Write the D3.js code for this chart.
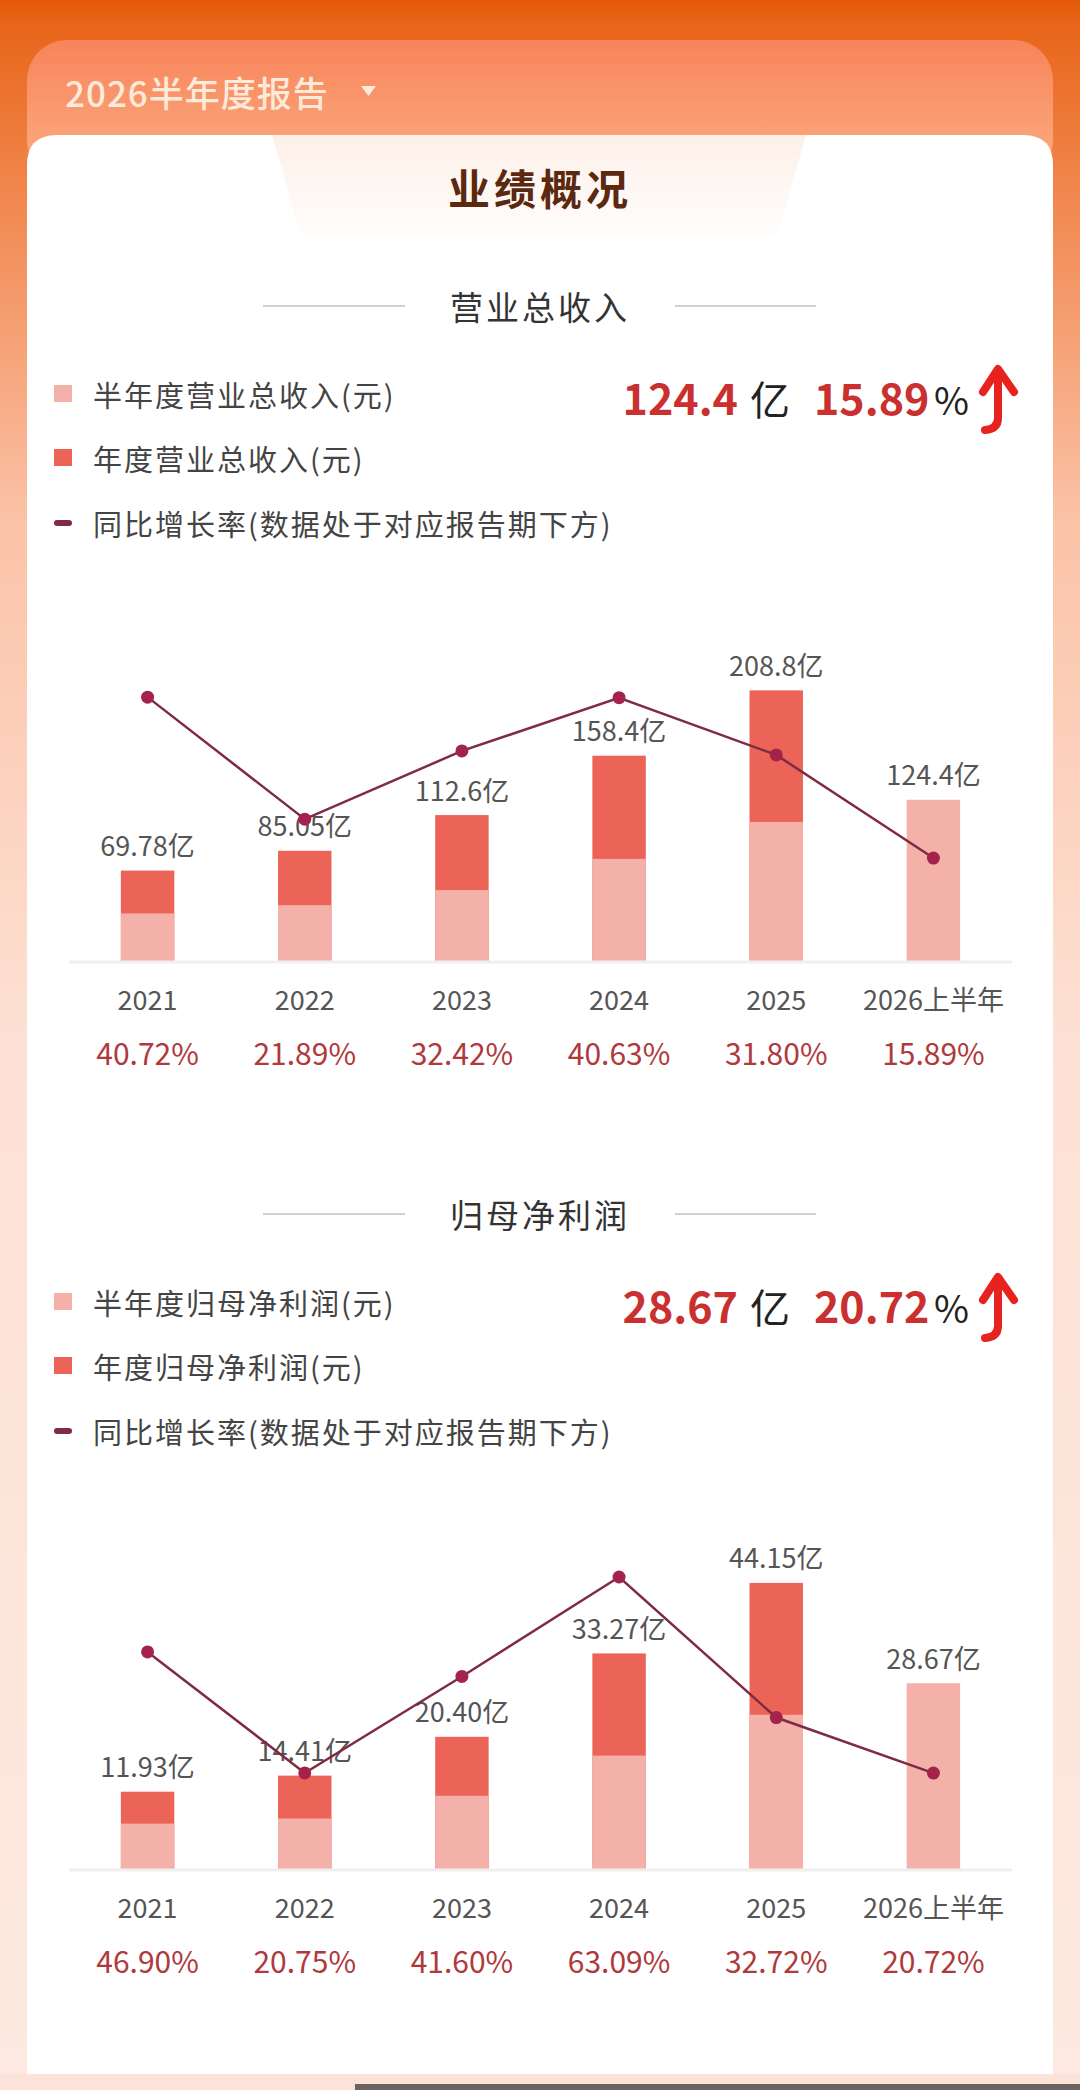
<!DOCTYPE html>
<html>
<head>
<meta charset="utf-8">
<script src="https://cdn.jsdelivr.net/npm/d3@7"></script>
<style>
  body { margin: 0; padding: 0; background: #fde9e0; }
  svg { display: block; }
  text { font-family: "Noto Sans CJK SC", "Noto Sans", sans-serif; }
</style>
</head>
<body>
<div id="chart"></div>
<script>
// categories
var years = ["2021", "2022", "2023", "2024", "2025", "2026上半年"];

// 营业总收入 (亿元)
var revHalf = [36.7, 43.1, 54.7, 78.8, 107.3, 124.4];
var revAnnual = [69.78, 85.05, 112.6, 158.4, 208.8, null];
var revGrowth = [40.72, 21.89, 32.42, 40.63, 31.80, 15.89];

// 归母净利润 (亿元)
var profitHalf = [7.0, 7.8, 11.3, 17.5, 23.8, 28.67];
var profitAnnual = [11.93, 14.41, 20.40, 33.27, 44.15, null];
var profitGrowth = [46.90, 20.75, 41.60, 63.09, 32.72, 20.72];

// axis domains
var revBarMax = 250, revLineMax = 50;
var profitBarMax = 50, profitLineMax = 70;

function init() {
    var w = 1080;
    var h = 2090;

    var svg = d3.select("#chart")
        .append("svg")
        .attr("width", w)
        .attr("height", h);

    var defs = svg.append("defs");

    var bg = defs.append("linearGradient")
        .attr("id", "bg").attr("x1", 0).attr("y1", 0).attr("x2", 0).attr("y2", 1);
    bg.append("stop").attr("offset", "0").attr("stop-color", "#e65a09");
    bg.append("stop").attr("offset", "0.012").attr("stop-color", "#e8651a");
    bg.append("stop").attr("offset", "0.08").attr("stop-color", "#f08246");
    bg.append("stop").attr("offset", "0.25").attr("stop-color", "#fbc3a8");
    bg.append("stop").attr("offset", "0.5").attr("stop-color", "#fde1d4");
    bg.append("stop").attr("offset", "1").attr("stop-color", "#fde9e1");

    var head = defs.append("linearGradient")
        .attr("id", "head").attr("x1", 0).attr("y1", 0).attr("x2", 0).attr("y2", 1);
    head.append("stop").attr("offset", "0").attr("stop-color", "#f8845a");
    head.append("stop").attr("offset", "1").attr("stop-color", "#fcae84");

    var trap = defs.append("linearGradient")
        .attr("id", "trap").attr("x1", 0).attr("y1", 0).attr("x2", 0).attr("y2", 1);
    trap.append("stop").attr("offset", "0").attr("stop-color", "#fdf0e8");
    trap.append("stop").attr("offset", "1").attr("stop-color", "#fffdfb");

    svg.append("rect").attr("width", w).attr("height", h).attr("fill", "url(#bg)");

    // header card
    svg.append("rect")
        .attr("x", 27).attr("y", 40).attr("width", 1026).attr("height", 140)
        .attr("rx", 40).attr("fill", "url(#head)");

    svg.append("text")
        .attr("x", 65).attr("y", 91)
        .attr("dominant-baseline", "central")
        .attr("font-size", 35)
        .attr("font-weight", 500)
        .attr("letter-spacing", 1)
        .attr("fill", "#fdeadb")
        .text("2026半年度报告");
    svg.append("path")
        .attr("d", "M361,86 L376,86 L368.5,96 Z")
        .attr("fill", "#fdeadb");

    // white panel
    svg.append("path")
        .attr("d", "M27,2074 L27,165 Q27,135 57,135 L1023,135 Q1053,135 1053,165 L1053,2074 Z")
        .attr("fill", "#ffffff");

    svg.append("path")
        .attr("d", "M272,135 L806,135 L778,234 L300,234 Z")
        .attr("fill", "url(#trap)");

    svg.append("text")
        .attr("x", 540).attr("y", 186)
        .attr("text-anchor", "middle")
        .attr("dominant-baseline", "central")
        .attr("font-size", 42)
        .attr("font-weight", "bold")
        .attr("letter-spacing", 4)
        .attr("fill", "#5b2810")
        .text("业绩概况");

    drawSection(svg, 0, {
        title: "营业总收入",
        legend: ["半年度营业总收入(元)", "年度营业总收入(元)", "同比增长率(数据处于对应报告期下方)"],
        half: revHalf, annual: revAnnual, growth: revGrowth,
        barMax: revBarMax, lineMax: revLineMax
    });

    drawSection(svg, 908, {
        title: "归母净利润",
        legend: ["半年度归母净利润(元)", "年度归母净利润(元)", "同比增长率(数据处于对应报告期下方)"],
        half: profitHalf, annual: profitAnnual, growth: profitGrowth,
        barMax: profitBarMax, lineMax: profitLineMax
    });

    // bottom strip
    svg.append("rect")
        .attr("x", 0).attr("y", 2074).attr("width", w).attr("height", 16)
        .attr("fill", "#fbe3d9");
    svg.append("rect")
        .attr("x", 355).attr("y", 2084).attr("width", 725).attr("height", 6)
        .attr("fill", "#6b6462");
}

function drawSection(svg, off, opt) {
    var g = svg.append("g").attr("transform", "translate(0," + off + ")");

    var halfColor = "#f4b1a9";
    var annualColor = "#ec6457";
    var lineColor = "#7e2b43";
    var dotColor = "#a3234d";

    // section title
    g.append("text")
        .attr("x", 540).attr("y", 306)
        .attr("text-anchor", "middle")
        .attr("dominant-baseline", "central")
        .attr("font-size", 33)
        .attr("letter-spacing", 3)
        .attr("fill", "#333")
        .text(opt.title);
    g.append("line").attr("x1", 263).attr("x2", 405).attr("y1", 306).attr("y2", 306)
        .attr("stroke", "#d2d2d2").attr("stroke-width", 2);
    g.append("line").attr("x1", 675).attr("x2", 816).attr("y1", 306).attr("y2", 306)
        .attr("stroke", "#d2d2d2").attr("stroke-width", 2);

    // legend
    var legendY = [394, 458, 523];
    var lg = g.selectAll(".legend")
        .data(opt.legend)
        .enter()
        .append("g")
        .attr("transform", function(d, i){ return "translate(0," + legendY[i] + ")"; });
    lg.each(function(d, i){
        var s = d3.select(this);
        if (i < 2) {
            s.append("rect")
                .attr("x", 54).attr("y", -9).attr("width", 18).attr("height", 17)
                .attr("fill", i == 0 ? halfColor : annualColor);
        } else {
            s.append("rect")
                .attr("x", 54).attr("y", -3).attr("width", 18).attr("height", 6)
                .attr("rx", 3)
                .attr("fill", lineColor);
        }
    });
    lg.append("text")
        .attr("x", 93).attr("y", 0)
        .attr("dominant-baseline", "central")
        .attr("font-size", 29)
        .attr("letter-spacing", 2)
        .attr("fill", "#444")
        .text(function(d){ return d; });

    // summary: latest half-year value and growth
    var n = opt.half.length;
    var lastVal = opt.half[n - 1];
    var lastGrowth = opt.growth[n - 1];
    g.append("text")
        .attr("x", 738).attr("y", 415)
        .attr("text-anchor", "end")
        .attr("font-size", 43)
        .attr("font-weight", "bold")
        .attr("fill", "#c9302f")
        .text(d3.format(".4r")(lastVal));
    g.append("text")
        .attr("x", 750).attr("y", 415)
        .attr("font-size", 40)
        .attr("fill", "#222")
        .text("亿");
    g.append("text")
        .attr("x", 814).attr("y", 415)
        .attr("font-size", 43)
        .attr("font-weight", "bold")
        .attr("fill", "#c9302f")
        .text(d3.format(".2f")(lastGrowth));
    g.append("text")
        .attr("x", 934).attr("y", 415)
        .attr("font-size", 38)
        .attr("fill", "#222")
        .text("%");
    g.append("path")
        .attr("d", "M998,374 L998,418 Q998,429 985,430")
        .attr("fill", "none").attr("stroke", "#e8221f").attr("stroke-width", 8)
        .attr("stroke-linecap", "round").attr("stroke-linejoin", "round");
    g.append("path")
        .attr("d", "M983,392 L998,369 L1014,392")
        .attr("fill", "none").attr("stroke", "#e8221f").attr("stroke-width", 8)
        .attr("stroke-linecap", "round").attr("stroke-linejoin", "round");

    // plot
    var top = 637, base = 961;

    var xScale = d3.scaleBand()
        .domain(years)
        .range([69, 1012])
        .paddingInner(0.66)
        .paddingOuter(0.33);

    var yBar = d3.scaleLinear()
        .domain([0, opt.barMax])
        .range([base, top]);

    var yLine = d3.scaleLinear()
        .domain([0, opt.lineMax])
        .range([base, top]);

    var rows = years.map(function(y, i){
        return { year: y, half: opt.half[i], annual: opt.annual[i], growth: opt.growth[i] };
    });

    // annual bars (full height), then half-year part on top
    g.selectAll(".annual")
        .data(rows.filter(function(d){ return d.annual != null; }))
        .enter()
        .append("rect")
        .attr("x", function(d){ return xScale(d.year); })
        .attr("y", function(d){ return yBar(d.annual); })
        .attr("width", xScale.bandwidth())
        .attr("height", function(d){ return base - yBar(d.annual); })
        .attr("fill", annualColor);

    g.selectAll(".half")
        .data(rows)
        .enter()
        .append("rect")
        .attr("x", function(d){ return xScale(d.year); })
        .attr("y", function(d){ return yBar(d.half); })
        .attr("width", xScale.bandwidth())
        .attr("height", function(d){ return base - yBar(d.half); })
        .attr("fill", halfColor);

    // baseline
    g.append("line")
        .attr("x1", 69).attr("x2", 1012).attr("y1", base + 1).attr("y2", base + 1)
        .attr("stroke", "#efefef").attr("stroke-width", 3);

    // value labels
    g.selectAll(".val")
        .data(rows)
        .enter()
        .append("text")
        .attr("x", function(d){ return xScale(d.year) + xScale.bandwidth() / 2; })
        .attr("y", function(d){ return yBar(d.annual != null ? d.annual : d.half) - 26; })
        .attr("text-anchor", "middle")
        .attr("dominant-baseline", "central")
        .attr("font-size", 27)
        .attr("fill", "#555")
        .text(function(d){ return d3.format(".4r")(d.annual != null ? d.annual : d.half) + "亿"; });

    // x labels
    g.selectAll(".xl")
        .data(rows)
        .enter()
        .append("text")
        .attr("x", function(d){ return xScale(d.year) + xScale.bandwidth() / 2; })
        .attr("y", base + 37)
        .attr("text-anchor", "middle")
        .attr("dominant-baseline", "central")
        .attr("font-size", 27)
        .attr("fill", "#555")
        .text(function(d){ return d.year; });

    // growth labels
    g.selectAll(".gl")
        .data(rows)
        .enter()
        .append("text")
        .attr("x", function(d){ return xScale(d.year) + xScale.bandwidth() / 2; })
        .attr("y", base + 91)
        .attr("text-anchor", "middle")
        .attr("dominant-baseline", "central")
        .attr("font-size", 30)
        .attr("fill", "#b0393b")
        .text(function(d){ return d3.format(".2f")(d.growth) + "%"; });

    // growth line
    var line = d3.line()
        .x(function(d){ return xScale(d.year) + xScale.bandwidth() / 2; })
        .y(function(d){ return yLine(d.growth); });

    g.append("path")
        .datum(rows)
        .attr("d", line)
        .attr("fill", "none")
        .attr("stroke", lineColor)
        .attr("stroke-width", 2.5);

    g.selectAll(".dot")
        .data(rows)
        .enter()
        .append("circle")
        .attr("cx", function(d){ return xScale(d.year) + xScale.bandwidth() / 2; })
        .attr("cy", function(d){ return yLine(d.growth); })
        .attr("r", 6.5)
        .attr("fill", dotColor);
}

window.onload = init;
</script>
</body>
</html>
